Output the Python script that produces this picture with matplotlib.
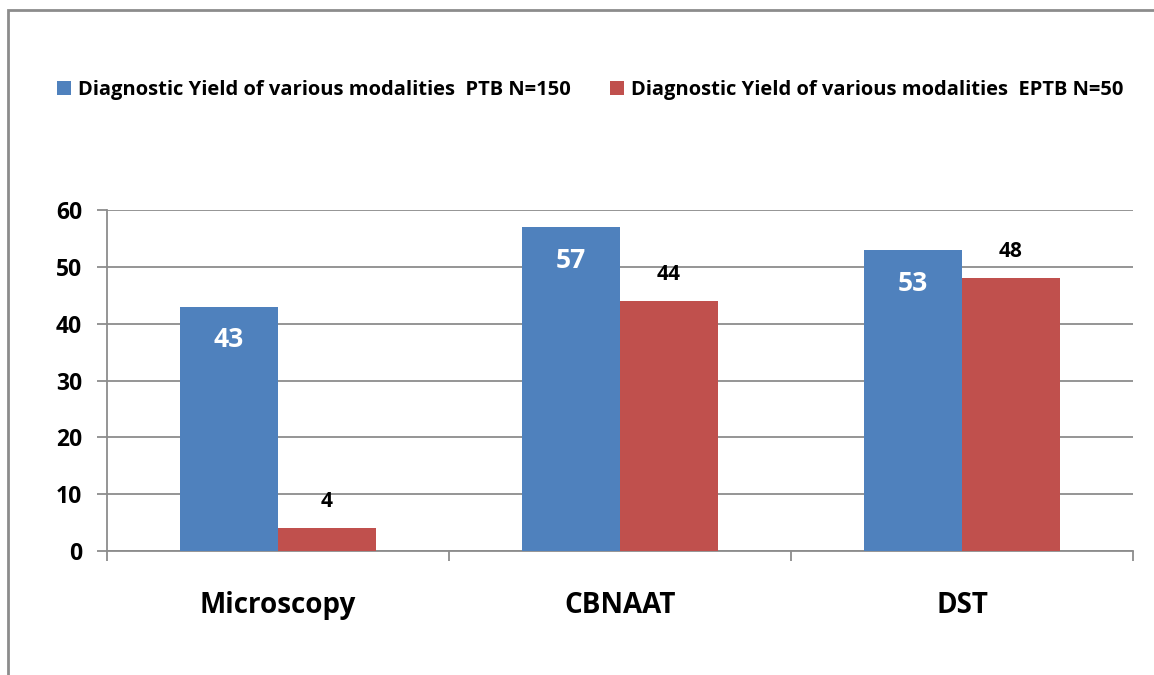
import matplotlib.pyplot as plt
from matplotlib.patches import Rectangle
import numpy as np

categories = ["Microscopy", "CBNAAT", "DST"]
ptb = [43, 57, 53]
eptb = [4, 44, 48]
series_names = ["Diagnostic Yield of various modalities  PTB N=150",
                "Diagnostic Yield of various modalities  EPTB N=50"]

plt.rcParams['font.family'] = ['Open Sans', 'DejaVu Sans']
plt.rcParams['font.weight'] = 'bold'

W, H = 1154, 675
fig = plt.figure(figsize=(W / 100, H / 100), dpi=100)

# outer chart border
fig.patches.append(Rectangle((8 / W, -0.05), 1.2, 1 - 10 / H + 0.05,
                             transform=fig.transFigure, fill=False,
                             edgecolor='#8c8c8c', lw=2))

ax = fig.add_axes([107 / W, 124 / H, 1026 / W, 341 / H])
x = np.arange(len(categories))
bw = 98 / 342
blue = '#4f81bd'
red = '#c0504d'
b1 = ax.bar(x - bw / 2, ptb, bw, color=blue, label=series_names[0], zorder=3)
b2 = ax.bar(x + bw / 2, eptb, bw, color=red, label=series_names[1], zorder=3)

for rect, v in zip(b1, ptb):
    ax.annotate(str(v), (rect.get_x() + rect.get_width() / 2, v),
                xytext=(0, -24), textcoords='offset points', ha='center',
                va='center', color='white', fontsize=19, fontweight='bold')
for rect, v in zip(b2, eptb):
    ax.annotate(str(v), (rect.get_x() + rect.get_width() / 2, v),
                xytext=(0, 19), textcoords='offset points', ha='center',
                va='center', color='black', fontsize=15, fontweight='bold')

ax.set_xlim(-0.5, 2.5)
ax.set_ylim(0, 60)
ax.set_yticks(range(0, 61, 10))
ax.yaxis.grid(True, color='#8c8c8c', lw=1.3, zorder=0)
ax.set_axisbelow(True)
for s in ['top', 'right']:
    ax.spines[s].set_visible(False)
for s in ['left', 'bottom']:
    ax.spines[s].set_color('#8c8c8c')
    ax.spines[s].set_linewidth(1.3)

ax.set_xticks(x)
ax.set_xticklabels(categories, fontsize=20, fontweight='bold')
ax.set_xticks([-0.5, 0.5, 1.5, 2.5], minor=True)
ax.tick_params(axis='x', which='major', length=0, pad=29)
ax.tick_params(axis='x', which='minor', length=7, color='#8c8c8c', width=1.3)
ax.tick_params(axis='y', length=7, color='#8c8c8c', width=1.3, labelsize=16.5, pad=11)
for t in ax.get_yticklabels():
    t.set_fontweight('bold')

fig.legend(handles=[b1, b2], labels=series_names, loc='center left',
           bbox_to_anchor=(39 / W, 1 - 90 / H), ncol=2, frameon=False,
           prop={'size': 14.5, 'weight': 'bold'}, handlelength=0.7,
           handleheight=0.7, handletextpad=0.35, columnspacing=1.95)

fig.savefig('out.png', dpi=100)
